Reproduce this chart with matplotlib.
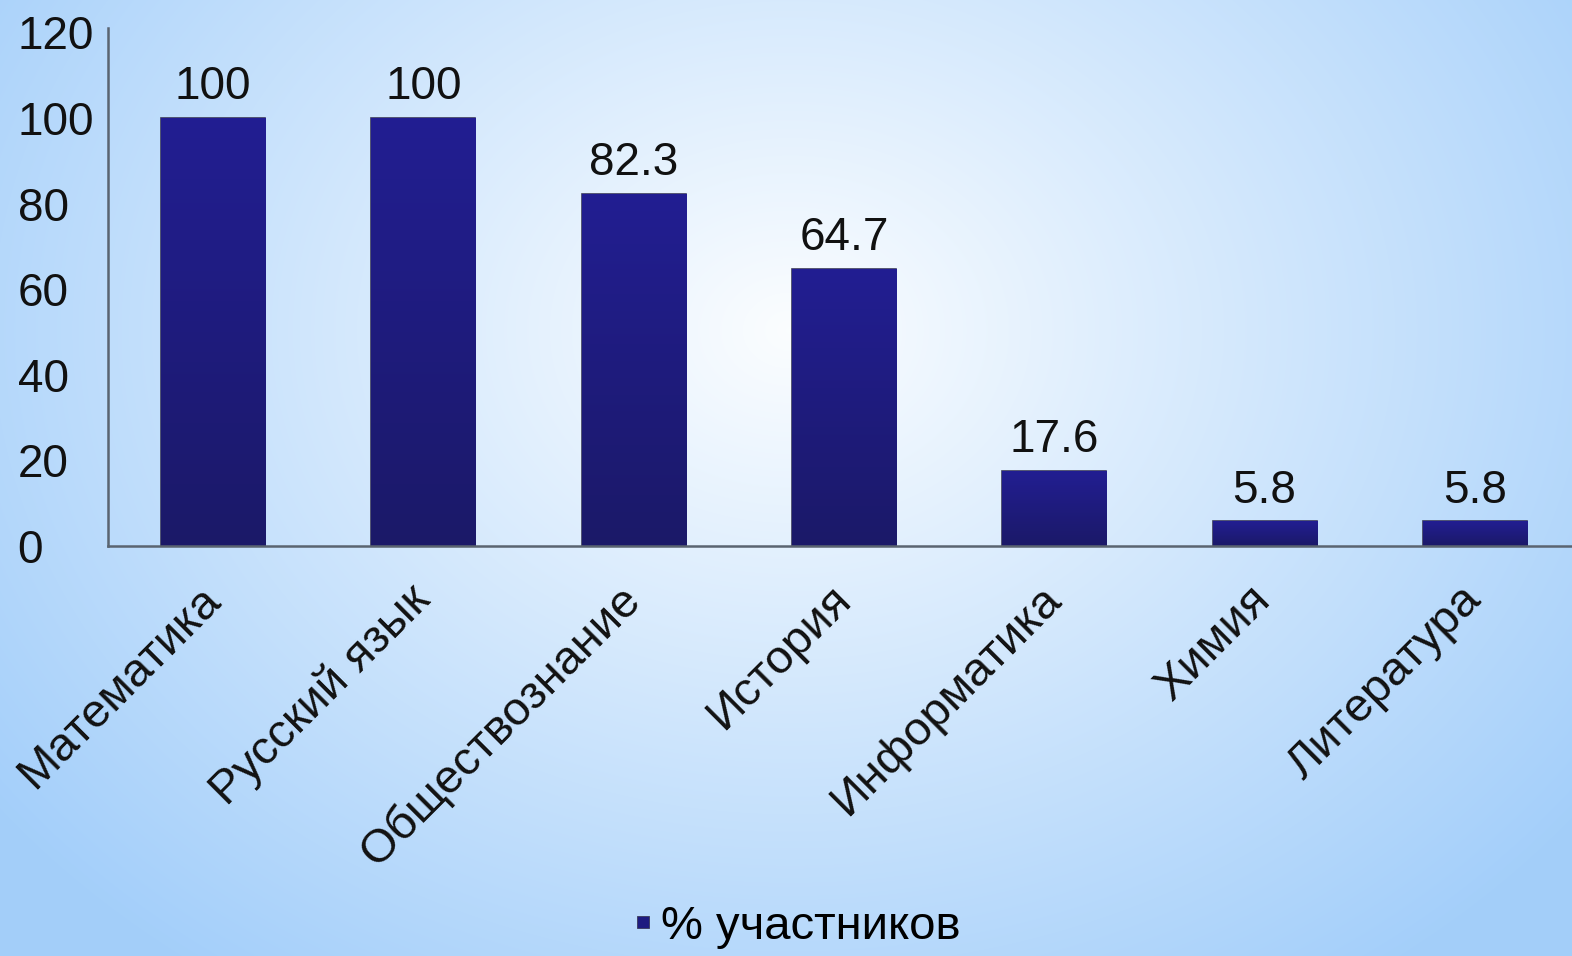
import numpy as np
import matplotlib
matplotlib.use("Agg")
import matplotlib.pyplot as plt
from matplotlib.colors import LinearSegmentedColormap
from matplotlib.lines import Line2D

plt.rcParams["font.family"] = ["Liberation Sans", "DejaVu Sans"]

categories = ["Математика", "Русский язык", "Обществознание", "История",
              "Информатика", "Химия", "Литература"]
values = [100, 100, 82.3, 64.7, 17.6, 5.8, 5.8]
value_labels = ["100", "100", "82.3", "64.7", "17.6", "5.8", "5.8"]
yticks = [0, 20, 40, 60, 80, 100, 120]
series_name = "% участников"

W, H = 1572, 956
fig = plt.figure(figsize=(W / 100, H / 100), dpi=100)

# radial gradient background, white in the middle, light blue at the corners
bg = fig.add_axes([0, 0, 1, 1])
yy, xx = np.mgrid[0:H, 0:W]
r = np.sqrt(((xx - 790) / 1000.0) ** 2 + ((yy - 330) / 800.0) ** 2)
r = np.clip(r, 0, 1)
center = np.array([0.985, 0.993, 1.0])
edge = np.array([0.64, 0.81, 0.98])
img = center[None, None, :] * (1 - r[..., None]) + edge[None, None, :] * r[..., None]
bg.imshow(img, aspect="auto", extent=[0, 1, 0, 1])
bg.axis("off")

ax = fig.add_axes([108 / W, 1 - 546 / H, 1472 / W, 518 / H])
ax.patch.set_alpha(0)

x = np.arange(len(categories))
bars = ax.bar(x, values, width=0.495, color="#1e1b80", edgecolor="#3a3a5a",
              linewidth=1.2, label=series_name, zorder=3)

# slight vertical shading inside each bar
cmap = LinearSegmentedColormap.from_list("bar", ["#1b1968", "#221e92"])
grad = np.linspace(0, 1, 256).reshape(-1, 1)
for b in bars:
    x0, y0 = b.get_x(), b.get_y()
    im = ax.imshow(grad, cmap=cmap, aspect="auto", origin="lower",
                   extent=[x0, x0 + b.get_width(), y0, y0 + b.get_height()], zorder=3.5)
    im.set_clip_path(b)
ax.set_xlim(-0.5, len(categories) - 0.5)
ax.set_ylim(0, 121)

for xi, v, lab in zip(x, values, value_labels):
    ax.text(xi, v + 2.0, lab, ha="center", va="bottom", fontsize=33, color="#111111")

ax.set_yticks(yticks)
ax.tick_params(axis="y", length=0, pad=65, labelsize=33, labelcolor="#111111")
for lab in ax.get_yticklabels():
    lab.set_horizontalalignment("left")
ax.set_xticks(x)
ax.set_xticklabels(categories, rotation=45, ha="right", va="center",
                   rotation_mode="anchor", fontsize=34, color="#111111")
ax.tick_params(axis="x", length=0, pad=34)

for s in ["top", "right"]:
    ax.spines[s].set_visible(False)
for s in ["left", "bottom"]:
    ax.spines[s].set_color("#5a6470")
    ax.spines[s].set_linewidth(1.8)
    ax.spines[s].set_zorder(4)

handle = Line2D([], [], marker="s", linestyle="", markersize=8.5,
                markerfacecolor="#1e1b80", markeredgecolor="#3a3a5a", markeredgewidth=0.6)
leg = fig.legend(handles=[handle], labels=[series_name], loc="center",
                 bbox_to_anchor=(797 / W, 1 - 927 / H), frameon=False,
                 fontsize=34, handlelength=0.4, handletextpad=0.2)

fig.savefig("out.png", dpi=100)
